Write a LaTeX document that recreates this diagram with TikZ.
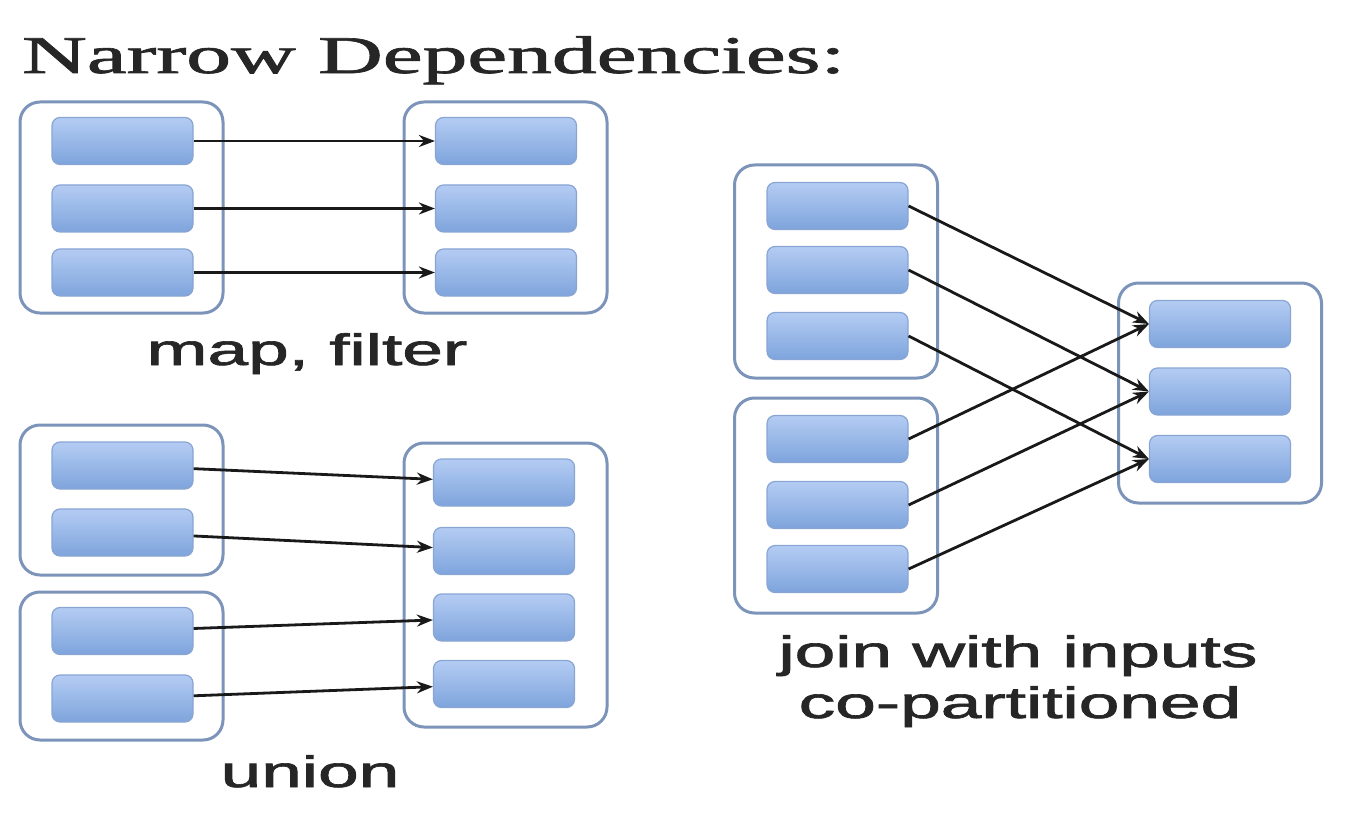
\documentclass[tikz,border=0pt]{standalone}
\usepackage{fontspec}
\usepackage{graphicx}
\setmainfont{Liberation Serif}
\setsansfont{Liberation Sans}
\newfontfamily\headfont[FakeBold=1.2]{Liberation Serif}
\newfontfamily\capfont[FakeBold=1.4]{Liberation Sans}
\usetikzlibrary{arrows.meta}
\definecolor{parttop}{HTML}{B4CCF3}
\definecolor{partbot}{HTML}{7EA4DC}
\definecolor{partedge}{HTML}{88A5D3}
\definecolor{rddedge}{HTML}{7D94BA}
\definecolor{ink}{HTML}{262626}
% text in this figure is set wide
\newcommand{\widetext}[2]{\scalebox{#1}[1]{#2}}
\tikzset{
  part/.style={rectangle, rounded corners=8pt, minimum width=141pt, minimum height=47pt,
    top color=parttop, bottom color=partbot, draw=partedge, line width=1.2pt, inner sep=0pt},
  rdd/.style={rectangle, rounded corners=20pt, minimum width=203pt, draw=rddedge,
    line width=3pt, fill=white, inner sep=0pt},
  dep/.style={line width=2.8pt, draw=black!90, -{Stealth[length=16pt,width=12pt]}},
  caption/.style={anchor=base, text=ink, inner sep=0pt, font=\capfont\fontsize{44}{50}\selectfont},
}
\begin{document}
\begin{tikzpicture}[x=1pt, y=-1pt]
\fill[white] (0,0) rectangle (1348,834);
\useasboundingbox (0,0) rectangle (1348,834);

% title
\node[anchor=base west, inner sep=0pt, text=ink] (title) at (22,73)
  {\widetext{1.69}{\headfont\fontsize{53}{60}\selectfont Narrow Dependencies:}};

% ---- map, filter ----
\node[rdd, minimum height=211pt] (mapA) at (121.5,207.5) {};
\node[rdd, minimum height=211pt] (mapB) at (505.5,207.5) {};
\foreach \i/\y in {1/141, 2/208.5, 3/272.5} {
  \node[part] (ma\i) at (122.5,\y) {};
  \node[part] (mb\i) at (506,\y) {};
}
\foreach \i in {1,2,3} \draw[dep] (ma\i) -- (mb\i);
\node[caption] (mapcap) at (307,365) {\widetext{1.66}{map, filter}};

% ---- union ----
\node[rdd, minimum height=150pt] (unA) at (121.5,500) {};
\node[rdd, minimum height=148pt] (unB) at (121.5,666) {};
\node[rdd, minimum height=284pt] (unC) at (505.5,585) {};
\foreach \i/\y in {1/465.5, 2/532.5} \node[part] (ua\i) at (122.5,\y) {};
\foreach \i/\y in {1/631, 2/698.5} \node[part] (ub\i) at (122.5,\y) {};
\foreach \i/\y in {1/482.5, 2/551, 3/617.5, 4/684} \node[part] (uc\i) at (504,\y) {};
\draw[dep] (ua1) -- (uc1);
\draw[dep] (ua2) -- (uc2);
\draw[dep] (ub1) -- (uc3);
\draw[dep] (ub2) -- (uc4);
\node[caption] (unioncap) at (310,787) {\widetext{1.66}{union}};

% ---- join with co-partitioned inputs ----
\node[rdd, minimum height=213pt] (jA) at (836,271.5) {};
\node[rdd, minimum height=215pt] (jB) at (836,505.5) {};
\node[rdd, minimum height=220pt] (jC) at (1220,393) {};
\foreach \i/\y in {1/206, 2/270, 3/336} \node[part] (ja\i) at (837.5,\y) {};
\foreach \i/\y in {1/439, 2/505, 3/569} \node[part] (jb\i) at (837.5,\y) {};
\foreach \i/\y in {1/324, 2/391.5, 3/459} \node[part] (jc\i) at (1220,\y) {};
\foreach \i in {1,2,3} {
  \draw[dep] (ja\i.east) -- (jc\i.west);
  \draw[dep] (jb\i.east) -- (jc\i.west);
}
\node[caption] (joincap1) at (1018,667) {\widetext{1.66}{join with inputs}};
\node[caption] (joincap2) at (1020,718) {\widetext{1.66}{co-partitioned}};
\end{tikzpicture}
\end{document}
